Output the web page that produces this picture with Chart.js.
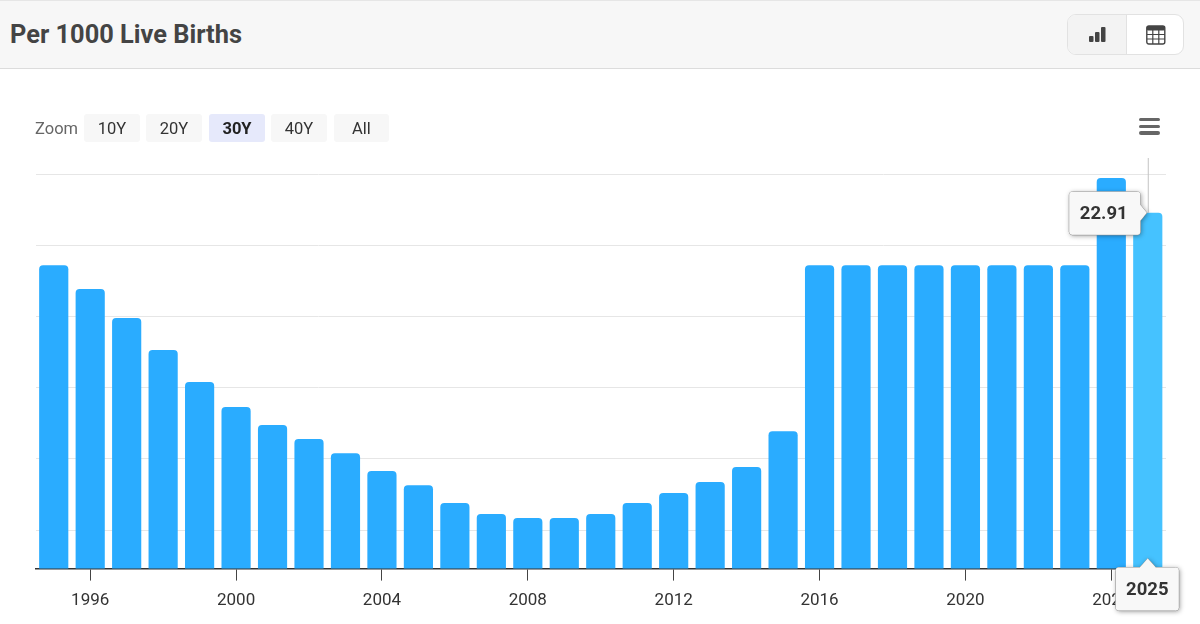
<!DOCTYPE html>
<html>
<head>
<meta charset="utf-8">
<title>Per 1000 Live Births</title>
<script src="https://cdn.jsdelivr.net/npm/chart.js@4"></script>
<style>
  html, body { margin: 0; padding: 0; background: #fff; overflow: hidden; }
  body { width: 1200px; height: 624px; position: relative; font-family: Roboto, sans-serif; }
  #chart { position: absolute; left: 0; top: 0; }
  .header { position: absolute; left: 0; top: 0; width: 1200px; height: 67px; background: #f7f7f7;
            border-top: 1px solid #e6e6e6; border-bottom: 1px solid #dcdcdc; box-sizing: content-box; }
  .header h1 { position: absolute; left: 10px; top: 17px; margin: 0; font-size: 25.4px; line-height: 32px; font-weight: 700; color: #444; }
  .toggle { position: absolute; left: 1067px; top: 13px; width: 117px; height: 41px; border: 1px solid #e2e2e2; border-radius: 9px;
            background: #fff; overflow: hidden; box-sizing: border-box; }
  .toggle .on { position: absolute; left: 0; top: 0; width: 58px; height: 100%; background: #f3f3f3; border-right: 1px solid #e2e2e2; }
  .toggle svg { position: absolute; }
  .zoom-label { position: absolute; left: 35px; top: 119px; font-size: 16.5px; line-height: 20px; color: #666; }
  .zoom-btn { position: absolute; top: 114px; height: 28px; line-height: 29px; text-align: center; font-size: 16.5px; color: #333;
              background: #f7f7f7; border-radius: 3px; }
  .zoom-btn.on { background: #e6e9fb; font-weight: 700; color: #222; }
  .menu { position: absolute; left: 1139px; top: 118px; width: 21px; }
  .menu div { height: 3.4px; background: #666; border-radius: 2px; margin-bottom: 3.2px; }
</style>
</head>
<body>
<canvas id="chart" width="1200" height="624"></canvas>

<div class="header">
  <h1>Per 1000 Live Births</h1>
  <div class="toggle">
    <div class="on"></div>
    <svg style="left:20px;top:11px" width="18" height="18" viewBox="0 0 18 18" fill="#444">
      <rect x="1" y="10" width="4.5" height="6" rx="1"/><rect x="7" y="6" width="4.5" height="10" rx="1"/><rect x="13" y="1" width="4.5" height="15" rx="1"/>
    </svg>
    <svg style="left:78px;top:10px" width="20" height="20" viewBox="0 0 20 20">
      <rect x="0.8" y="1" width="18" height="18" rx="2" fill="#fff" stroke="#444" stroke-width="1.4"/>
      <rect x="0.8" y="1" width="18" height="4.5" rx="1.5" fill="#444"/>
      <path d="M1 9.5H19M1 14H19M6.8 5V19M12.8 5V19" stroke="#444" stroke-width="1.2"/>
    </svg>
  </div>
</div>

<div class="zoom-label">Zoom</div>
<div class="zoom-btn" style="left:84px;width:56px">10Y</div>
<div class="zoom-btn" style="left:146px;width:56px">20Y</div>
<div class="zoom-btn on" style="left:209px;width:56px">30Y</div>
<div class="zoom-btn" style="left:271px;width:56px">40Y</div>
<div class="zoom-btn" style="left:334px;width:55px">All</div>
<div class="menu"><div></div><div></div><div></div></div>

<script>
const years = ['1995','1996','1997','1998','1999','2000','2001','2002','2003','2004','2005',
  '2006','2007','2008','2009','2010','2011','2012','2013','2014','2015',
  '2016','2017','2018','2019','2020','2021','2022','2023','2024','2025'];
const rates = [21.44,20.77,19.96,19.06,18.16,17.46,16.95,16.56,16.16,15.66,15.26,
  14.76,14.45,14.34,14.34,14.45,14.76,15.04,15.35,15.77,16.78,
  21.44,21.44,21.44,21.44,21.44,21.44,21.44,21.44,23.89,22.91];
const gridValues = [14,16,18,20,22,24];
const labelYears = ['1996','2000','2004','2008','2012','2016','2020','2024'];
const hoverYear = '2025';

const barColor = '#2aacff';
const hoverColor = '#45c2ff';

// the two tooltips of the hovered bar, drawn from the scales
const hoverPlugin = {
    id: 'hoverPlugin',
    afterDraw(chart) {
        const ctx = chart.ctx;
        const i = years.indexOf(hoverYear);
        const px = chart.scales.x.getPixelForValue(i);
        const py = chart.scales.y.getPixelForValue(rates[i]);
        const area = chart.chartArea;

        ctx.save();
        ctx.strokeStyle = '#c4c4c4';
        ctx.lineWidth = 1;
        ctx.beginPath();
        ctx.moveTo(px + 0.5, area.top);
        ctx.lineTo(px + 0.5, py);
        ctx.stroke();

        ctx.font = '700 18.5px Roboto';
        ctx.textAlign = 'center';
        ctx.textBaseline = 'middle';

        // value box, caret to the right
        const vx = px - 78.5, vy = py - 21, vw = 71, vh = 43;
        const valuePath = new Path2D();
        valuePath.roundRect(vx, vy, vw, vh, 3);
        valuePath.moveTo(vx + vw, py - 8);
        valuePath.lineTo(px - 1, py);
        valuePath.lineTo(vx + vw, py + 8);
        valuePath.closePath();
        bubble(ctx, valuePath);
        ctx.fillStyle = '#333';
        ctx.fillText(rates[i].toFixed(2), vx + vw / 2 - 1, vy + vh / 2 + 1);

        // year box, caret on top
        const yx = px - 32, yy = area.bottom - 1, yw = 63, yh = 43;
        const yearPath = new Path2D();
        yearPath.roundRect(yx, yy, yw, yh, 3);
        yearPath.moveTo(px - 8, yy);
        yearPath.lineTo(px, yy - 9);
        yearPath.lineTo(px + 8, yy);
        yearPath.closePath();
        bubble(ctx, yearPath);
        ctx.fillStyle = '#333';
        ctx.fillText(hoverYear, yx + yw / 2, yy + yh / 2 + 1);
        ctx.restore();
    }
};

function bubble(ctx, path) {
    ctx.fillStyle = '#f8f8f8';
    ctx.strokeStyle = '#8c8c8c';
    ctx.shadowColor = 'rgba(0,0,0,0.4)';
    ctx.shadowBlur = 5;
    ctx.shadowOffsetX = 1;
    ctx.shadowOffsetY = 1;
    ctx.fill(path);
    ctx.shadowColor = 'transparent';
    ctx.stroke(path);
    ctx.fill(path);
}

const myChart = new Chart(document.getElementById('chart').getContext('2d'), {
    type: 'bar',
    data: {
        labels: years,
        datasets: [{
            label: 'Per 1000 Live Births',
            data: rates,
            backgroundColor: years.map(y => y === hoverYear ? hoverColor : barColor),
            borderRadius: { topLeft: 4, topRight: 4 },
            borderSkipped: false,
            barPercentage: 0.8,
            categoryPercentage: 1
        }]
    },
    options: {
        responsive: false,
        animation: false,
        events: [],
        layout: { padding: { left: 35.5, right: 34, top: 158, bottom: 3 } },
        plugins: { legend: { display: false }, tooltip: { enabled: false } },
        scales: {
            x: {
                afterBuildTicks: scale => {
                    scale.ticks = scale.ticks.filter(t => labelYears.includes(years[t.value]));
                },
                grid: { offset: false, drawOnChartArea: false, drawTicks: true, tickLength: 12, tickColor: '#444', tickWidth: 1 },
                border: { color: '#333', width: 1.5 },
                ticks: {
                    autoSkip: false,
                    maxRotation: 0,
                    padding: 10,
                    color: '#333',
                    font: { family: 'Roboto', size: 17 }
                }
            },
            y: {
                min: 12.92,
                max: 24.45,
                afterBuildTicks: scale => {
                    scale.ticks = gridValues.map(v => ({ value: v }));
                },
                grid: { color: '#e6e6e6', drawTicks: false },
                border: { display: false },
                ticks: { display: false }
            }
        }
    },
    plugins: [hoverPlugin]
});
</script>
</body>
</html>
